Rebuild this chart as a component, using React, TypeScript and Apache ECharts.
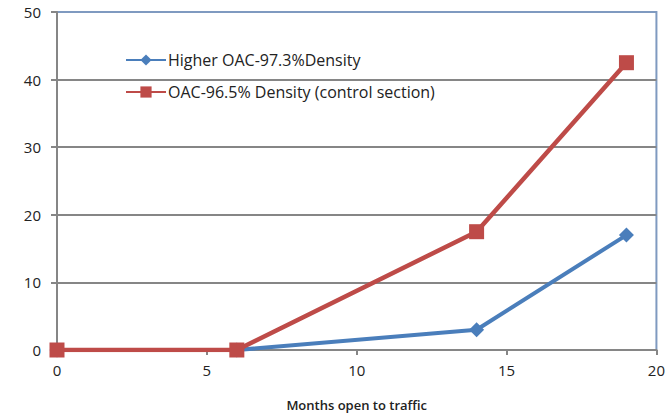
import React, { useEffect, useRef } from "react";
import * as echarts from "echarts";

const seriesNames = ["Higher OAC-97.3%Density", "OAC-96.5% Density (control section)"];
const months = [0, 6, 14, 19];
const higherValues = [0, 0, 3, 17];
const controlValues = [0, 0, 17.5, 42.5];
const xTicks = [0, 5, 10, 15, 20];
const yTicks = [0, 10, 20, 30, 40, 50];
const xAxisTitle = "Months open to traffic";

export default function App() {
  const ref = useRef<HTMLDivElement>(null);
  useEffect(() => {
    if (!ref.current) return;
    const chart = echarts.init(ref.current, null, { renderer: "svg" });
    const font = "'Open Sans', 'Noto Sans', sans-serif";
    chart.setOption({
      animation: false,
      backgroundColor: "#ffffff",
      textStyle: { fontFamily: font },
      grid: {
        left: 57, right: 11, top: 12, bottom: 66,
        show: true, borderColor: "#7F9AC0", borderWidth: 2, backgroundColor: "#ffffff",
      },
      legend: {
        orient: "vertical",
        left: 120,
        top: 47,
        itemGap: 16,
        itemWidth: 40,
        itemHeight: 14,
        textStyle: { fontSize: 16, color: "#222", fontFamily: font, padding: [0, 0, 0, -3] },
        data: seriesNames,
      },
      xAxis: {
        type: "value",
        min: xTicks[0],
        max: xTicks[xTicks.length - 1],
        interval: 5,
        name: xAxisTitle,
        nameLocation: "middle",
        nameGap: 48,
        nameTextStyle: { fontSize: 13, color: "#222", fontWeight: 600, fontFamily: font },
        axisLine: { show: true, lineStyle: { color: "#868686", width: 2 } },
        axisTick: { show: true, length: 5, lineStyle: { color: "#868686", width: 2 } },
        axisLabel: { fontSize: 15, color: "#222", margin: 12 },
        splitLine: { show: false },
      },
      yAxis: {
        type: "value",
        min: yTicks[0],
        max: yTicks[yTicks.length - 1],
        interval: 10,
        axisLine: { show: true, lineStyle: { color: "#868686", width: 2 } },
        axisTick: { show: true, length: 6, lineStyle: { color: "#868686", width: 2 } },
        axisLabel: { fontSize: 15, color: "#222", margin: 16 },
        splitLine: {
          show: true,
          lineStyle: {
            color: ["#868686", "#868686", "#868686", "#868686", "#868686", "#7F9AC0"],
            width: 2,
          },
        },
      },
      series: [
        {
          name: seriesNames[0],
          type: "line",
          data: months.map((m, i) => [m, higherValues[i]]),
          symbol: "diamond",
          symbolSize: 15,
          lineStyle: { color: "#4A7EBB", width: 4 },
          itemStyle: { color: "#4A7EBB" },
          z: 3,
        },
        {
          name: seriesNames[1],
          type: "line",
          data: months.map((m, i) => [m, controlValues[i]]),
          symbol: "rect",
          symbolSize: 15,
          lineStyle: { color: "#BE4B48", width: 4.5 },
          itemStyle: { color: "#BE4B48" },
          z: 4,
        },
      ],
    });
    return () => chart.dispose();
  }, []);
  return <div ref={ref} style={{ width: 668, height: 416, position: "fixed", left: 0, top: 0 }} />;
}
